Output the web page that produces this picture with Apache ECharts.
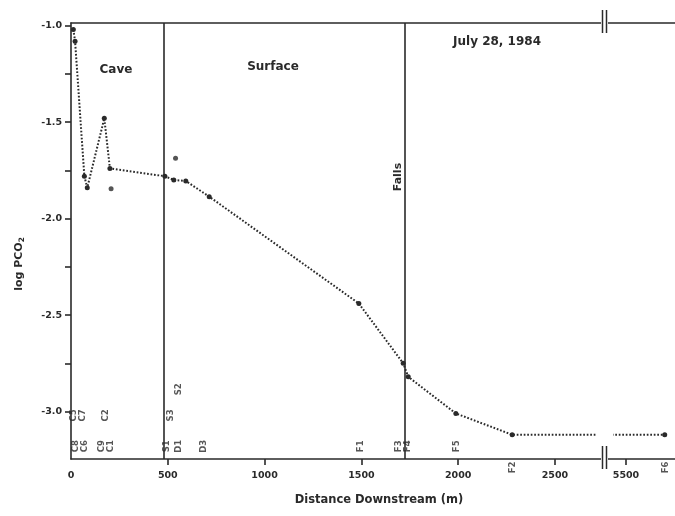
<!DOCTYPE html>
<html>
<head>
<meta charset="utf-8">
<script src="https://cdn.jsdelivr.net/npm/echarts@6/dist/echarts.min.js"></script>
<style>
html,body{margin:0;padding:0;background:#fff;}
#c{width:675px;height:516px;}
</style>
</head>
<body>
<div id="c"></div>
<script>
// ---- data ----
const xTickValues = [0, 500, 1000, 1500, 2000, 2500];
const xTickValuesFar = [5500];
const yTickLabels = [-3.0, -2.5, -2.0, -1.5, -1.0];
const yTickMarks = [-3.0, -2.75, -2.5, -2.25, -2.0, -1.75, -1.5, -1.25, -1.0];

const distance = [12, 21, 69, 84, 172, 201, 485, 531, 593, 714, 1487, 1716, 1742, 1988, 2279, 5700];
const logPCO2 = [-1.02, -1.08, -1.78, -1.84, -1.48, -1.74, -1.78, -1.80, -1.805, -1.886, -2.44, -2.75, -2.82, -3.01, -3.12, -3.12];

const extraDistance = [207, 540];
const extraLogPCO2 = [-1.845, -1.687];

const sectionBounds = [480, 1725];

const stationNames = ['C8', 'C6', 'C9', 'C1', 'C5', 'C7', 'C2', 'S1', 'D1', 'D3', 'S3', 'S2', 'F1', 'F3', 'F4', 'F5', 'F2', 'F6'];
const stationDistance = [26, 72, 160, 207, 15, 62, 181, 493, 555, 684, 514, 558, 1495, 1694, 1741, 1994, 2280, 5705];
const stationRow = ['low', 'low', 'low', 'low', 'mid', 'mid', 'mid', 'low', 'low', 'low', 'mid', 'high', 'low', 'low', 'low', 'low', 'below', 'below'];

// ---- chart ----
const FONT = 'DejaVu Sans';
const INK = '#2a2a2a';
const rowLevel = { low: -3.18, mid: -3.02, high: -2.885, below: -3.29 };
const yMin = -3.246, yMax = -0.986;

const mainData = distance.map((d, i) => [d, logPCO2[i]]);
const extraData = extraDistance.map((d, i) => [d, extraLogPCO2[i]]);
const stationData = stationNames.map((n, i) => ({ value: [stationDistance[i], rowLevel[stationRow[i]]], name: n }));
const nearStations = stationData.filter(s => s.value[0] < 3000);
const farStations = stationData.filter(s => s.value[0] >= 3000);

const chart = echarts.init(document.getElementById('c'), null, { renderer: 'canvas' });

const axisLineStyle = { color: INK, width: 1.6 };
const labelFont = { fontFamily: FONT, fontWeight: 'bold', fontSize: 9.5, color: INK };

function lineSeries(idx) {
  return {
    type: 'line', xAxisIndex: idx, yAxisIndex: idx, data: mainData, clip: true,
    symbol: 'circle', symbolSize: 5, showAllSymbol: true,
    itemStyle: { color: INK },
    lineStyle: { color: INK, width: 2, type: [1.7, 1.8] },
    animation: false, z: 3
  };
}
function stationSeries(idx, data) {
  return {
    type: 'scatter', xAxisIndex: idx, yAxisIndex: idx, data: data, clip: false,
    symbolSize: 0, silent: true, animation: false,
    label: {
      show: true, position: 'inside', rotate: 90, formatter: p => p.name,
      fontFamily: FONT, fontWeight: 'bold', fontSize: 8.5, color: INK,
      align: 'center', verticalAlign: 'middle'
    }
  };
}

chart.setOption({
  backgroundColor: '#ffffff',
  animation: false,
  grid: [
    { left: 71, top: 23, right: 73, bottom: 57, containLabel: false },
    { left: 607, top: 23, right: 0, bottom: 57, containLabel: false }
  ],
  xAxis: [
    {
      gridIndex: 0, type: 'value', min: 0, max: 2743, position: 'bottom',
      axisLine: { show: true, lineStyle: axisLineStyle },
      axisTick: { show: true, length: 6, lineStyle: axisLineStyle, customValues: xTickValues.slice(1) },
      axisLabel: Object.assign({ show: true, margin: 12, customValues: xTickValues, formatter: v => String(v) }, labelFont),
      splitLine: { show: false }
    },
    {
      gridIndex: 1, type: 'value', min: 5402, max: 5753, position: 'bottom',
      axisLine: { show: true, lineStyle: axisLineStyle },
      axisTick: { show: true, length: 6, lineStyle: axisLineStyle, customValues: xTickValuesFar },
      axisLabel: Object.assign({ show: true, margin: 12, customValues: xTickValuesFar, formatter: v => String(v) }, labelFont),
      splitLine: { show: false }
    },
    {
      gridIndex: 0, type: 'value', min: 0, max: 2743, position: 'top',
      axisLine: { show: true, lineStyle: axisLineStyle },
      axisTick: { show: false }, axisLabel: { show: false }, splitLine: { show: false }
    },
    {
      gridIndex: 1, type: 'value', min: 5402, max: 5753, position: 'top',
      axisLine: { show: true, lineStyle: axisLineStyle },
      axisTick: { show: false }, axisLabel: { show: false }, splitLine: { show: false }
    }
  ],
  yAxis: [
    {
      gridIndex: 0, type: 'value', min: yMin, max: yMax,
      axisLine: { show: true, lineStyle: axisLineStyle },
      axisTick: { show: true, length: 6, lineStyle: axisLineStyle, customValues: yTickMarks },
      axisLabel: Object.assign({ show: true, margin: 9, customValues: yTickLabels, formatter: v => v.toFixed(1) }, labelFont),
      splitLine: { show: false }
    },
    {
      gridIndex: 1, type: 'value', min: yMin, max: yMax, show: false
    }
  ],
  series: [
    Object.assign(lineSeries(0), {
      markLine: {
        silent: true, symbol: ['none', 'none'], animation: false,
        label: { show: false },
        lineStyle: { color: INK, width: 1.6, type: 'solid' },
        data: sectionBounds.map(b => ({ xAxis: b }))
      }
    }),
    lineSeries(1),
    {
      type: 'scatter', xAxisIndex: 0, yAxisIndex: 0, data: extraData,
      symbol: 'circle', symbolSize: 5, itemStyle: { color: INK }, animation: false
    },
    stationSeries(0, nearStations),
    stationSeries(1, farStations)
  ],
  graphic: [
    { type: 'text', x: 116, y: 70, style: { text: 'Cave', font: 'bold 12px "DejaVu Sans"', fill: INK, align: 'center', verticalAlign: 'middle' } },
    { type: 'text', x: 273, y: 67, style: { text: 'Surface', font: 'bold 12px "DejaVu Sans"', fill: INK, align: 'center', verticalAlign: 'middle' } },
    { type: 'text', x: 497, y: 42, style: { text: 'July 28, 1984', font: 'bold 12px "DejaVu Sans"', fill: INK, align: 'center', verticalAlign: 'middle' } },
    { type: 'text', x: 398, y: 177, rotation: Math.PI / 2, style: { text: 'Falls', font: 'bold 11px "DejaVu Sans"', fill: INK, align: 'center', verticalAlign: 'middle' } },
    { type: 'text', x: 379, y: 500, style: { text: 'Distance Downstream (m)', font: 'bold 11.5px "DejaVu Sans"', fill: INK, align: 'center', verticalAlign: 'middle' } },
    {
      type: 'text', x: 19, y: 264, rotation: Math.PI / 2,
      style: {
        text: '{a|log PCO}{b|2}', align: 'center', verticalAlign: 'middle',
        rich: {
          a: { fontFamily: FONT, fontWeight: 'bold', fontSize: 11, fill: INK, color: INK },
          b: { fontFamily: FONT, fontWeight: 'bold', fontSize: 7.5, fill: INK, color: INK, padding: [6, 0, 0, 0] }
        }
      }
    },
    // gap in the dotted trace at the axis break
    { type: 'rect', shape: { x: 597, y: 30, width: 16, height: 414 }, style: { fill: '#ffffff' }, z: 50 },
    // axis break marks
    { type: 'rect', shape: { x: 601, y: 10, width: 7, height: 23 }, style: { fill: '#ffffff' }, z: 50 },
    { type: 'line', shape: { x1: 602.5, y1: 10, x2: 602.5, y2: 33 }, style: { stroke: INK, lineWidth: 1.5 }, z: 51 },
    { type: 'line', shape: { x1: 606.5, y1: 10, x2: 606.5, y2: 33 }, style: { stroke: INK, lineWidth: 1.5 }, z: 51 },
    { type: 'rect', shape: { x: 601, y: 446, width: 7, height: 23 }, style: { fill: '#ffffff' }, z: 50 },
    { type: 'line', shape: { x1: 602.5, y1: 446, x2: 602.5, y2: 469 }, style: { stroke: INK, lineWidth: 1.5 }, z: 51 },
    { type: 'line', shape: { x1: 606.5, y1: 446, x2: 606.5, y2: 469 }, style: { stroke: INK, lineWidth: 1.5 }, z: 51 }
  ]
});
</script>
</body>
</html>
